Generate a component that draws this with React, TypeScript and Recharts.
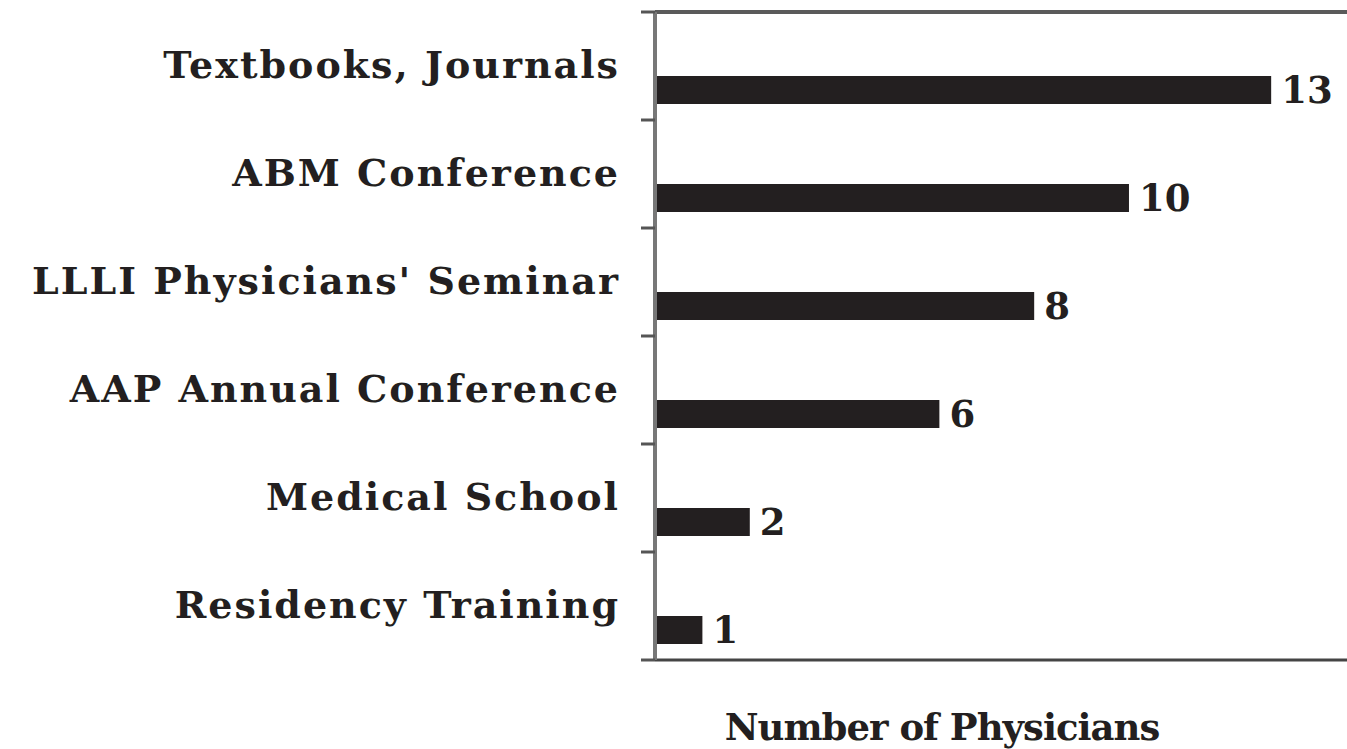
import React from "react";
import { BarChart, Bar, XAxis, YAxis, LabelList, Label } from "recharts";

const categories = [
  "Textbooks, Journals",
  "ABM Conference",
  "LLLI Physicians' Seminar",
  "AAP Annual Conference",
  "Medical School",
  "Residency Training",
];
const physicians = [13, 10, 8, 6, 2, 1];
const xMax = 14.6;

const data = categories.map((name, i) => ({ name, value: physicians[i] }));

const W = 1347;
const H = 749;
const TOP = 12;
const BOTTOM = 89;
const BAND = (H - TOP - BOTTOM) / categories.length;
const BAR_SIZE = 28;
const BAR_SHIFT = 24; // bars sit below the band centre
const INK = "#231f20";
const FONT = "'DejaVu Serif', serif";
const TICK_SIZE = 14;
const TICK_MARGIN = 23;

const CategoryTick = (props: any) => {
  const { x, y, payload, index } = props;
  const x1 = x + TICK_MARGIN;
  const x2 = x1 + TICK_SIZE;
  return (
    <g>
      <text
        x={x + 2}
        y={y}
        dy="0.32em"
        textAnchor="end"
        fill={INK}
        fontFamily={FONT}
        fontWeight="bold"
        fontSize={38}
        letterSpacing={2}
      >
        {payload.value}
      </text>
      {index === 0 && (
        <line x1={x1} x2={x2} y1={y - BAND / 2} y2={y - BAND / 2} stroke="#555" strokeWidth={3} />
      )}
      <line x1={x1} x2={x2} y1={y + BAND / 2} y2={y + BAND / 2} stroke="#555" strokeWidth={3} />
    </g>
  );
};

const ShiftedBar = (props: any) => {
  const { x, y, width, height } = props;
  return <rect x={x} y={y + BAR_SHIFT} width={width} height={height} fill={INK} />;
};

const ValueLabel = (props: any) => {
  const { x, y, width, height, value } = props;
  return (
    <text
      x={x + width + 10}
      y={y + BAR_SHIFT + height / 2 + 13}
      fill={INK}
      fontFamily={FONT}
      fontWeight="bold"
      fontSize={37}
    >
      {value}
    </text>
  );
};

const AxisTitle = (props: any) => {
  const { viewBox } = props;
  return (
    <text
      x={viewBox.x + viewBox.width / 2 - 59}
      y={viewBox.y + 80}
      textAnchor="middle"
      fill={INK}
      fontFamily={FONT}
      fontWeight="bold"
      fontSize={37}
      letterSpacing={-1}
    >
      Number of Physicians
    </text>
  );
};

export default function App() {
  return (
    <div style={{ position: "absolute", left: 0, top: 0, background: "#fff" }}>
      <BarChart
        width={W}
        height={H}
        data={data}
        layout="vertical"
        margin={{ top: TOP - 1, right: 0, bottom: 0, left: 0 }}
      >
        <XAxis
          xAxisId="top"
          orientation="top"
          type="number"
          domain={[0, xMax]}
          height={1}
          tick={false}
          tickLine={false}
          axisLine={{ stroke: "#5a5a5a", strokeWidth: 4 }}
        />
        <XAxis
          type="number"
          domain={[0, xMax]}
          height={BOTTOM}
          tick={false}
          tickLine={false}
          axisLine={{ stroke: "#444", strokeWidth: 3 }}
        >
          <Label content={<AxisTitle />} />
        </XAxis>
        <YAxis
          type="category"
          dataKey="name"
          width={655}
          tickSize={TICK_SIZE}
          tickMargin={TICK_MARGIN}
          tickLine={false}
          tick={<CategoryTick />}
          interval={0}
          axisLine={{ stroke: "#777", strokeWidth: 4 }}
        />
        <Bar dataKey="value" barSize={BAR_SIZE} shape={<ShiftedBar />} isAnimationActive={false}>
          <LabelList dataKey="value" content={<ValueLabel />} />
        </Bar>
      </BarChart>
    </div>
  );
}
